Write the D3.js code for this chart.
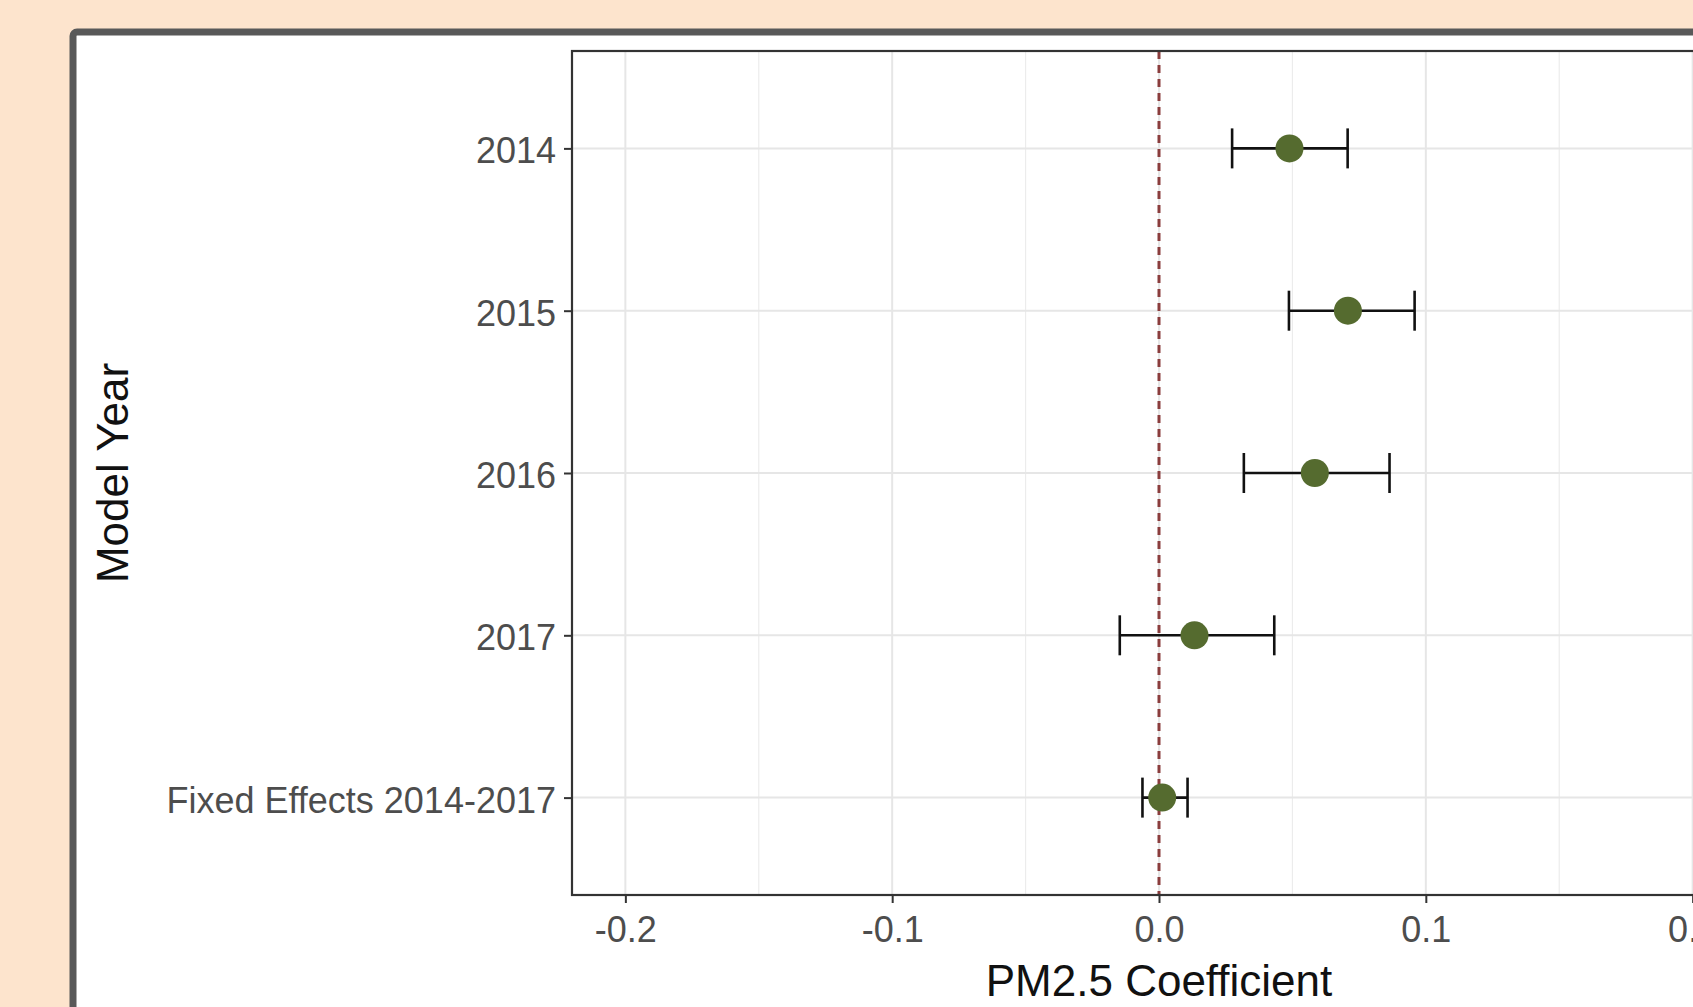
<!DOCTYPE html>
<html>
<head>
<meta charset="utf-8">
<script src="https://cdn.jsdelivr.net/npm/d3@7"></script>
<style>
  html, body { margin: 0; padding: 0; background: #fde4cd; overflow: hidden; }
  svg { display: block; }
  text { font-family: "Liberation Sans", Arial, sans-serif; }
</style>
</head>
<body>
<svg id="chart"></svg>
<script>
// model rows, top to bottom
const models = ["2014", "2015", "2016", "2017", "Fixed Effects 2014-2017"];
// PM2.5 coefficient estimates and their 95% bounds
const estimate = [0.0489, 0.0708, 0.0584, 0.0133, 0.0012];
const lower = [0.0274, 0.0487, 0.0318, -0.0147, -0.0062];
const upper = [0.0707, 0.0958, 0.0864, 0.0432, 0.0107];
const xTicks = [-0.2, -0.1, 0.0, 0.1, 0.2];
const xMinor = [-0.15, -0.05, 0.05, 0.15];

const W = 1693, H = 1007;
const svg = d3.select("#chart").attr("width", W).attr("height", H);

// slide frame the plot sits in (cut off at right and bottom)
svg.append("rect")
    .attr("x", 73).attr("y", 32)
    .attr("width", W).attr("height", H)
    .attr("rx", 4)
    .attr("fill", "#fff")
    .attr("stroke", "#595959")
    .attr("stroke-width", 7);

const panel = { left: 572, top: 51, right: 1746, bottom: 895 };

const x = d3.scaleLinear().domain([-0.22, 0.22]).range([panel.left, panel.right]);
const y = d3.scalePoint().domain(models).range([panel.top, panel.bottom]).padding(0.6);

const rows = models.map((m, i) => ({ m, est: estimate[i], lo: lower[i], hi: upper[i] }));

// grid
svg.append("g").selectAll("line.minor").data(xMinor).join("line")
    .attr("x1", d => x(d)).attr("x2", d => x(d))
    .attr("y1", panel.top).attr("y2", panel.bottom)
    .attr("stroke", "#ececec").attr("stroke-width", 1.2);
svg.append("g").selectAll("line.major").data(xTicks).join("line")
    .attr("x1", d => x(d)).attr("x2", d => x(d))
    .attr("y1", panel.top).attr("y2", panel.bottom)
    .attr("stroke", "#e6e6e6").attr("stroke-width", 2);
svg.append("g").selectAll("line").data(models).join("line")
    .attr("x1", panel.left).attr("x2", panel.right)
    .attr("y1", d => y(d)).attr("y2", d => y(d))
    .attr("stroke", "#e6e6e6").attr("stroke-width", 2);

// zero reference
svg.append("line")
    .attr("x1", x(0)).attr("x2", x(0))
    .attr("y1", panel.top).attr("y2", panel.bottom)
    .attr("stroke", "#8a3d3d").attr("stroke-width", 3)
    .attr("stroke-dasharray", "8,6");

// error bars
const eb = svg.append("g").attr("stroke", "#111").attr("stroke-width", 2.6);
eb.selectAll("line.h").data(rows).join("line")
    .attr("x1", d => x(d.lo)).attr("x2", d => x(d.hi))
    .attr("y1", d => y(d.m)).attr("y2", d => y(d.m));
eb.selectAll("line.l").data(rows).join("line")
    .attr("x1", d => x(d.lo)).attr("x2", d => x(d.lo))
    .attr("y1", d => y(d.m) - 20).attr("y2", d => y(d.m) + 20);
eb.selectAll("line.r").data(rows).join("line")
    .attr("x1", d => x(d.hi)).attr("x2", d => x(d.hi))
    .attr("y1", d => y(d.m) - 20).attr("y2", d => y(d.m) + 20);

// points
svg.append("g").selectAll("circle").data(rows).join("circle")
    .attr("cx", d => x(d.est)).attr("cy", d => y(d.m))
    .attr("r", 14)
    .attr("fill", "#556b2f");

// panel border
svg.append("rect")
    .attr("x", panel.left).attr("y", panel.top)
    .attr("width", panel.right - panel.left).attr("height", panel.bottom - panel.top)
    .attr("fill", "none").attr("stroke", "#333").attr("stroke-width", 2.2);

// axes
const xAxis = svg.append("g")
    .attr("transform", `translate(0,${panel.bottom})`)
    .call(d3.axisBottom(x).tickValues(xTicks).tickFormat(d3.format(".1f")).tickSize(8).tickPadding(13));
const yAxis = svg.append("g")
    .attr("transform", `translate(${panel.left},0)`)
    .call(d3.axisLeft(y).tickSize(8).tickPadding(8));
[xAxis, yAxis].forEach(a => {
    a.select(".domain").remove();
    a.selectAll(".tick line").attr("stroke", "#333").attr("stroke-width", 2);
    a.selectAll(".tick text")
        .attr("fill", "#4d4d4d")
        .style("font-size", "36px")
        .style("font-family", "'Liberation Sans', Arial, sans-serif");
});
xAxis.selectAll(".tick text").text(d => d3.format(".1f")(d).replace("−", "-"));
yAxis.selectAll(".tick text").attr("dy", "0.4em");

// titles
svg.append("text")
    .attr("x", (panel.left + panel.right) / 2).attr("y", 996)
    .attr("text-anchor", "middle")
    .style("font-size", "44px")
    .attr("fill", "#111")
    .text("PM2.5 Coefficient");
svg.append("text")
    .attr("transform", `translate(128,${(panel.top + panel.bottom) / 2}) rotate(-90)`)
    .attr("text-anchor", "middle")
    .style("font-size", "44px")
    .attr("fill", "#111")
    .text("Model Year");
</script>
</body>
</html>
